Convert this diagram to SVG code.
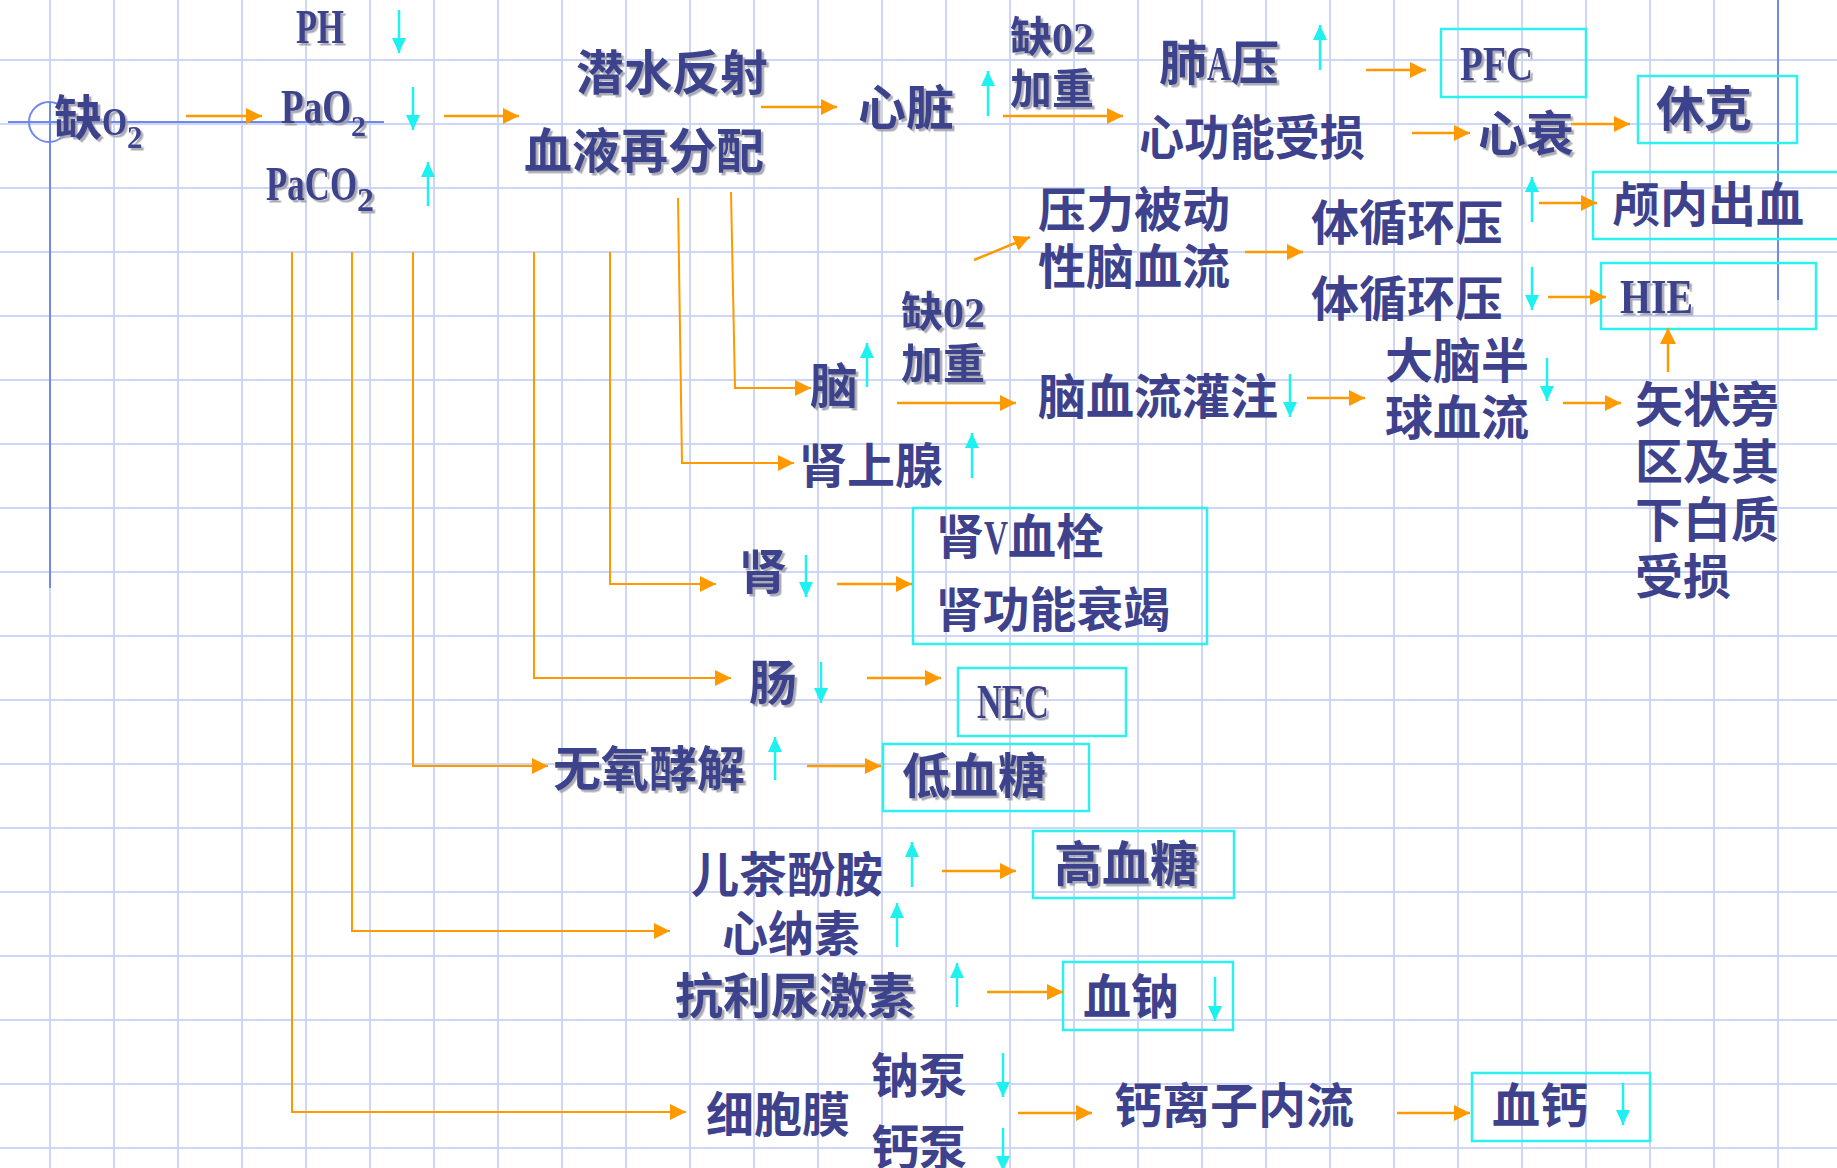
<svg xmlns="http://www.w3.org/2000/svg" width="1837" height="1168" viewBox="0 0 1837 1168">
<style>
.t{font-family:"Liberation Serif","Noto Sans CJK SC",serif;font-size:48px;font-weight:700;fill:#3e428c}
.c42{font-size:42px}
.s{filter:url(#sh)}
.o{stroke:#ff9900;stroke-width:2.5;fill:none}
.ol{stroke:#ff9900;stroke-width:2;fill:none}
.oa{marker-end:url(#ao)}
.c{stroke:#1ff0f0;stroke-width:2.5;fill:none;marker-end:url(#ac)}
.box{stroke:#2ef0f0;stroke-width:2.5;fill:none}
.grid{stroke:#cdd7f5;stroke-width:2;fill:none}
.blue{stroke:#7088ee;stroke-width:2;fill:none}
</style>
<defs>
<filter id="sh" x="-10%" y="-10%" width="125%" height="140%">
<feDropShadow dx="2.5" dy="2.5" stdDeviation="0.4" flood-color="#9c9ca8" flood-opacity="0.85"/>
</filter>
<marker id="ao" markerUnits="userSpaceOnUse" markerWidth="18" markerHeight="18" refX="16" refY="8" orient="auto">
<path d="M0,0 L16,8 L0,16 Z" fill="#ff9900"/>
</marker>
<marker id="ac" markerUnits="userSpaceOnUse" markerWidth="16" markerHeight="16" refX="15" refY="7" orient="auto">
<path d="M0,0 L15,7 L0,14 Z" fill="#1ff0f0"/>
</marker>
</defs>
<rect width="1837" height="1168" fill="#ffffff"/>
<path class="grid" d="M50 0V1168M114 0V1168M178 0V1168M242 0V1168M306 0V1168M370 0V1168M434 0V1168M498 0V1168M562 0V1168M626 0V1168M690 0V1168M754 0V1168M818 0V1168M882 0V1168M946 0V1168M1010 0V1168M1074 0V1168M1138 0V1168M1202 0V1168M1266 0V1168M1330 0V1168M1394 0V1168M1458 0V1168M1522 0V1168M1586 0V1168M1650 0V1168M1714 0V1168M1778 0V1168M0 60H1837M0 124H1837M0 188H1837M0 252H1837M0 316H1837M0 380H1837M0 444H1837M0 508H1837M0 572H1837M0 636H1837M0 700H1837M0 764H1837M0 828H1837M0 892H1837M0 956H1837M0 1020H1837M0 1084H1837M0 1148H1837"/>
<g id="decor">
<path class="blue" d="M8 122H384M50 102V588M1778 0V300"/>
<circle class="blue" cx="49" cy="122" r="20"/>
</g>
<g id="boxes">
<rect id="box-pfc" class="box" x="1441" y="29" width="145" height="68"/>
<rect id="box-shock" class="box" x="1638" y="76" width="159" height="67"/>
<rect id="box-ich" class="box" x="1593" y="172" width="250" height="67"/>
<rect id="box-hie" class="box" x="1601" y="263" width="215" height="66"/>
<rect id="box-renal" class="box" x="913" y="508" width="294" height="136"/>
<rect id="box-nec" class="box" x="958" y="668" width="168" height="68"/>
<rect id="box-hypo" class="box" x="883" y="744" width="206" height="67"/>
<rect id="box-hyper" class="box" x="1033" y="831" width="201" height="67"/>
<rect id="box-na" class="box" x="1063" y="962" width="170" height="68"/>
<rect id="box-ca" class="box" x="1472" y="1073" width="178" height="68"/>
</g>
<g id="connectors">
<path class="o oa" d="M186 116H262"/>
<path class="o oa" d="M444 116H519"/>
<path class="o oa" d="M761 107H837"/>
<path class="o oa" d="M1003 116H1123"/>
<path class="o oa" d="M1366 70H1426"/>
<path class="o oa" d="M1412 133H1470"/>
<path class="o oa" d="M1571 124H1630"/>
<path class="o oa" d="M974 260L1030 237"/>
<path class="o oa" d="M1245 252H1303"/>
<path class="o oa" d="M1539 203H1597"/>
<path class="o oa" d="M1548 297H1606"/>
<path class="o oa" d="M897 403H1016"/>
<path class="o oa" d="M1307 398H1365"/>
<path class="o oa" d="M1563 403H1621"/>
<path class="o oa" d="M1668 372V328"/>
<path class="ol oa" d="M731 192L735 388H811"/>
<path class="ol oa" d="M678 198L682 463H794"/>
<path class="ol oa" d="M610 252V584H716"/>
<path class="ol oa" d="M534 252V678H731"/>
<path class="ol oa" d="M413 252V766H548"/>
<path class="ol oa" d="M352 252V931H670"/>
<path class="ol oa" d="M292 252V1112H686"/>
<path class="o oa" d="M837 584H912"/>
<path class="o oa" d="M867 678H941"/>
<path class="o oa" d="M807 766H881"/>
<path class="o oa" d="M942 871H1016"/>
<path class="o oa" d="M987 992H1063"/>
<path class="o oa" d="M1018 1113H1092"/>
<path class="o oa" d="M1397 1113H1470"/>
<path class="c" d="M399 10V53"/>
<path class="c" d="M413 87V130"/>
<path class="c" d="M428 206V162"/>
<path class="c" d="M988 116V71"/>
<path class="c" d="M1320 70V25"/>
<path class="c" d="M1532 222V177"/>
<path class="c" d="M1532 267V310"/>
<path class="c" d="M867 387V343"/>
<path class="c" d="M1290 374V417"/>
<path class="c" d="M1547 358V401"/>
<path class="c" d="M972 478V433"/>
<path class="c" d="M806 555V597"/>
<path class="c" d="M821 662V703"/>
<path class="c" d="M775 780V737"/>
<path class="c" d="M912 887V842"/>
<path class="c" d="M897 947V903"/>
<path class="c" d="M957 1007V963"/>
<path class="c" d="M1215 977V1021"/>
<path class="c" d="M1003 1053V1097"/>
<path class="c" d="M1003 1128V1171"/>
<path class="c" d="M1623 1083V1125"/>
</g>
<g id="n-hypoxia"><text class="t s" x="54" y="135">缺<tspan font-size="40" textLength="25" lengthAdjust="spacingAndGlyphs">O</tspan><tspan font-size="31" dy="13">2</tspan></text></g>
<g id="n-ph"><text class="t s" x="296" y="43" font-size="50" textLength="48" lengthAdjust="spacingAndGlyphs">PH</text></g>
<g id="n-pao2"><text class="t s" x="281" y="123" font-size="50"><tspan textLength="70" lengthAdjust="spacingAndGlyphs">PaO</tspan><tspan font-size="30" dy="13">2</tspan></text></g>
<g id="n-paco2"><text class="t s" x="266" y="200" font-size="50"><tspan textLength="91" lengthAdjust="spacingAndGlyphs">PaCO</tspan><tspan font-size="34" dy="11">2</tspan></text></g>
<g id="n-dive"><text class="t s" x="576" y="90">潜水反射</text><text class="t s" x="524" y="168">血液再分配</text></g>
<g id="n-heart"><text class="t s" x="858" y="125">心脏</text></g>
<g id="n-hyp1"><text class="t c42 s" x="1010" y="52">缺02</text><text class="t c42 s" x="1010" y="104">加重</text></g>
<g id="n-pap"><text class="t s" x="1159" y="80">肺<tspan textLength="24" lengthAdjust="spacingAndGlyphs">A</tspan>压</text></g>
<g id="n-pfc"><text class="t s" x="1460" y="80" font-size="50" textLength="73" lengthAdjust="spacingAndGlyphs">PFC</text></g>
<g id="n-cardfn"><text class="t" x="1139" y="155" textLength="226" lengthAdjust="spacingAndGlyphs">心功能受损</text></g>
<g id="n-hf"><text class="t s" x="1478" y="151">心衰</text></g>
<g id="n-shock"><text class="t s" x="1656" y="126">休克</text></g>
<g id="n-pcbf"><text class="t" x="1038" y="227">压力被动</text><text class="t" x="1038" y="284">性脑血流</text></g>
<g id="n-sbp-up"><text class="t" x="1311" y="240">体循环压</text></g>
<g id="n-sbp-down"><text class="t" x="1311" y="316">体循环压</text></g>
<g id="n-ich"><text class="t" x="1612" y="222">颅内出血</text></g>
<g id="n-hie"><text class="t s" x="1620" y="313" font-size="50" textLength="73" lengthAdjust="spacingAndGlyphs">HIE</text></g>
<g id="n-hyp2"><text class="t c42 s" x="901" y="327">缺02</text><text class="t c42 s" x="901" y="379">加重</text></g>
<g id="n-brain"><text class="t s" x="810" y="403">脑</text></g>
<g id="n-cbf"><text class="t" x="1038" y="414">脑血流灌注</text></g>
<g id="n-hemi"><text class="t" x="1385" y="378">大脑半</text><text class="t" x="1385" y="435">球血流</text></g>
<g id="n-para"><text class="t" x="1635" y="422">矢状旁</text><text class="t" x="1635" y="479">区及其</text><text class="t" x="1635" y="537">下白质</text><text class="t" x="1635" y="594">受损</text></g>
<g id="n-adrenal"><text class="t" x="799" y="483">肾上腺</text></g>
<g id="n-kidney"><text class="t s" x="739" y="589">肾</text></g>
<g id="n-renal"><text class="t" x="936" y="554">肾<tspan textLength="24" lengthAdjust="spacingAndGlyphs">V</tspan>血栓</text><text class="t" x="936" y="627" textLength="234" lengthAdjust="spacingAndGlyphs">肾功能衰竭</text></g>
<g id="n-gut"><text class="t s" x="749" y="700">肠</text></g>
<g id="n-nec"><text class="t s" x="977" y="718" font-size="50" textLength="72" lengthAdjust="spacingAndGlyphs">NEC</text></g>
<g id="n-glyco"><text class="t s" x="553" y="786">无氧酵解</text></g>
<g id="n-hypogly"><text class="t s" x="902" y="793">低血糖</text></g>
<g id="n-cate"><text class="t" x="691" y="892">儿茶酚胺</text></g>
<g id="n-hypergly"><text class="t s" x="1054" y="881">高血糖</text></g>
<g id="n-anp"><text class="t" x="722" y="951" textLength="138" lengthAdjust="spacingAndGlyphs">心纳素</text></g>
<g id="n-adh"><text class="t s" x="675" y="1013">抗利尿激素</text></g>
<g id="n-na"><text class="t" x="1083" y="1014">血钠</text></g>
<g id="n-membrane"><text class="t" x="706" y="1132">细胞膜</text></g>
<g id="n-napump"><text class="t" x="871" y="1093">钠泵</text></g>
<g id="n-capump"><text class="t" x="871" y="1165">钙泵</text></g>
<g id="n-cainflux"><text class="t" x="1114" y="1123">钙离子内流</text></g>
<g id="n-ca"><text class="t" x="1492" y="1123">血钙</text></g>
</svg>
